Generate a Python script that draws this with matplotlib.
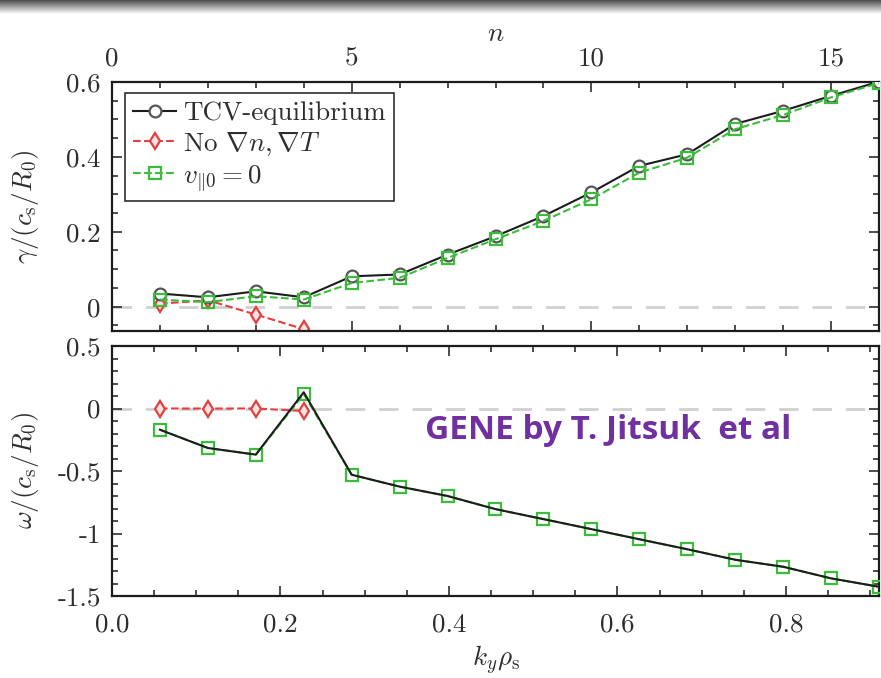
import numpy as np
import matplotlib

matplotlib.use("Agg")
import matplotlib.pyplot as plt
from matplotlib.ticker import FixedLocator, MultipleLocator


plt.rcParams["font.family"] = "serif"
plt.rcParams["font.serif"] = ["cmr10", "DejaVu Serif"]
plt.rcParams["mathtext.fontset"] = "cm"
plt.rcParams["axes.unicode_minus"] = False

# toroidal mode number and the matching binormal wavenumber
n_modes = [1, 2, 3, 4, 5, 6, 7, 8, 9, 10, 11, 12, 13, 14, 15, 16]
ky_per_n = 0.0569
n_red = [1, 2, 3, 4]

# growth rates gamma / (c_s / R_0)
gamma_tcv = [0.035, 0.025, 0.041, 0.025, 0.081, 0.086, 0.139, 0.188,
             0.242, 0.305, 0.376, 0.407, 0.488, 0.523, 0.563, 0.601]
gamma_vpar0 = [0.019, 0.012, 0.028, 0.019, 0.063, 0.077, 0.130, 0.180,
               0.229, 0.287, 0.358, 0.398, 0.474, 0.512, 0.559, 0.597]
gamma_nograd = [0.008, 0.017, -0.021, -0.060]

# real frequencies omega / (c_s / R_0)
omega_tcv = [-0.17, -0.316, -0.369, 0.13, -0.53, -0.625, -0.70, -0.805,
             -0.885, -0.965, -1.046, -1.126, -1.21, -1.266, -1.359, -1.426]
omega_vpar0 = [-0.169, -0.316, -0.369, 0.115, -0.53, -0.625, -0.70, -0.805,
               -0.885, -0.965, -1.046, -1.126, -1.21, -1.266, -1.359, -1.426]
omega_nograd = [0.0, 0.0, 0.0, -0.02]

BLACK = "#1c1c1c"
TEXT = "#2e2e2e"
RED = "#e2403f"
GREEN = "#3dbb3d"
ZERO = "#d0d0d0"
FS = 19.5

W, H = 881, 678
fig = plt.figure(figsize=(W / 100, H / 100), dpi=100)

# dark strip along the top edge
strip = fig.add_axes([0, 1 - 14 / H, 1, 14 / H])
grad = np.linspace(0.3, 1.0, 64).reshape(-1, 1)
strip.imshow(grad, cmap="gray", vmin=0, vmax=1, aspect="auto", extent=[0, 1, 0, 1])
strip.axis("off")

ax_g = fig.add_axes([112 / W, 1 - 331 / H, 767 / W, 249 / H])
ax_w = fig.add_axes([112 / W, 1 - 596 / H, 767 / W, 250 / H])

ky = np.array(n_modes) * ky_per_n
ky_red = np.array(n_red) * ky_per_n

line_kw = dict(lw=1.5, ms=8.5, mew=1.6)

# growth-rate panel is drawn against n
ax_g.axhline(0, color=ZERO, lw=2, dashes=(7, 5), zorder=1)
ax_g.plot(n_red, gamma_nograd, "--", marker="d", color=RED, mfc="#fbe3e3",
          label=r"No $\nabla n, \nabla T$", zorder=2, **line_kw)
ax_g.plot(n_modes, gamma_tcv, "-", marker="o", color=BLACK, mfc="white",
          mec="#555555", label="TCV-equilibrium", zorder=3, **line_kw)
ax_g.plot(n_modes, gamma_vpar0, "--", marker="s", color=GREEN, mfc="none",
          label=r"$v_{\|0} = 0$", zorder=4, **line_kw)

ax_w.axhline(0, color=ZERO, lw=2, dashes=(7, 5), zorder=1)
ax_w.plot(ky_red, omega_nograd, "--", marker="d", color=RED, mfc="#fbe3e3",
          zorder=2, **line_kw)
ax_w.plot(ky, omega_vpar0, "--", marker="s", color=GREEN, mfc="none",
          zorder=3, **line_kw)
ax_w.plot(ky, omega_tcv, "-", color=BLACK, lw=1.5, zorder=4)

ax_g.set_xlim(0, 16)
ax_g.set_ylim(-0.065, 0.6)
ax_w.set_xlim(0, 16 * ky_per_n)
ax_w.set_ylim(-1.5, 0.5)

ax_g.xaxis.set_major_locator(MultipleLocator(5))
ax_g.xaxis.set_minor_locator(MultipleLocator(1))
ax_g.yaxis.set_major_locator(FixedLocator([0, 0.2, 0.4, 0.6]))
ax_g.set_yticklabels(["0", "0.2", "0.4", "0.6"])
ax_g.yaxis.set_minor_locator(MultipleLocator(0.05))
ax_g.tick_params(axis="x", which="both", top=True, bottom=True,
                 labeltop=True, labelbottom=False)
ax_g.tick_params(axis="x", which="major", pad=8)
ax_g.xaxis.set_label_position("top")
ax_g.set_xlabel(r"$n$", fontsize=FS, color=TEXT)
ax_g.xaxis.set_label_coords(0.5, 1.165)
ax_g.set_ylabel(r"$\gamma/(c_{\mathrm{s}}/R_0)$", fontsize=FS, color=TEXT)
ax_g.yaxis.set_label_coords(-0.092, 0.5)

ax_w.xaxis.set_major_locator(MultipleLocator(0.2))
ax_w.xaxis.set_minor_locator(MultipleLocator(0.05))
ax_w.set_xticks([0, 0.2, 0.4, 0.6, 0.8])
ax_w.set_xticklabels(["0.0", "0.2", "0.4", "0.6", "0.8"])
ax_w.yaxis.set_major_locator(FixedLocator([-1.5, -1, -0.5, 0, 0.5]))
ax_w.set_yticklabels(["-1.5", "-1", "-0.5", "0", "0.5"])
ax_w.yaxis.set_minor_locator(MultipleLocator(0.1))
ax_w.tick_params(axis="x", which="both", top=True, bottom=True)
ax_w.tick_params(axis="x", which="major", pad=12)
ax_w.set_xlabel(r"$k_y\rho_{\mathrm{s}}$", fontsize=FS, color=TEXT)
ax_w.xaxis.set_label_coords(0.5, -0.19)
ax_w.set_ylabel(r"$\omega/(c_{\mathrm{s}}/R_0)$", fontsize=FS, color=TEXT)
ax_w.yaxis.set_label_coords(-0.092, 0.5)

for ax in (ax_g, ax_w):
    ax.tick_params(which="both", direction="in", left=True, right=True,
                   labelsize=FS, labelcolor=TEXT, color=BLACK, width=1.1)
    ax.tick_params(axis="y", which="major", pad=8)
    ax.tick_params(which="major", length=7)
    ax.tick_params(which="minor", length=4)
    for sp in ax.spines.values():
        sp.set_linewidth(1.6)
        sp.set_color(BLACK)
    ax.set_facecolor("white")

handles, labels = ax_g.get_legend_handles_labels()
order = [1, 0, 2]
leg = ax_g.legend([handles[i] for i in order], [labels[i] for i in order],
                  loc="upper left", bbox_to_anchor=(13 / 767, 1 - 11 / 249),
                  fontsize=FS, handlelength=1.6, handletextpad=0.25,
                  borderpad=0.3, labelspacing=0.2, borderaxespad=0.0,
                  fancybox=False, framealpha=1, edgecolor=BLACK)
leg.get_frame().set_linewidth(1.1)
for t in leg.get_texts():
    t.set_color(TEXT)

fig.text(425 / W, 1 - 439 / H, "GENE by T. Jitsuk  et al", color="#7030a0",
         fontsize=24, fontweight="bold", family="Open Sans", va="baseline")

fig.savefig("out.png", dpi=100)
